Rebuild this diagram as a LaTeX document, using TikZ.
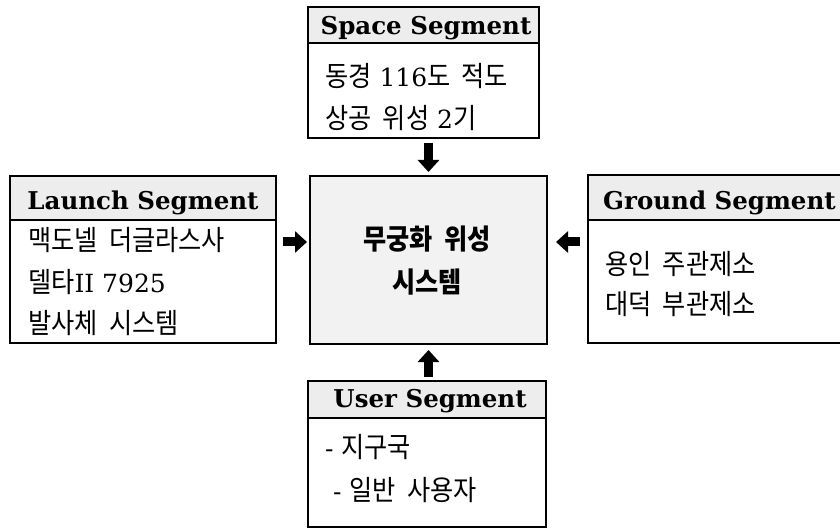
\documentclass[tikz,border=0pt]{standalone}
\usepackage{fontspec}
\setmainfont{DejaVu Serif}
\newfontfamily\kr[Scale=1.12, FakeStretch=0.9, WordSpace=2]{Noto Sans CJK KR}
\usetikzlibrary{arrows.meta}

\begin{document}
\begin{tikzpicture}[x=1pt,y=-1pt,
  frame/.style={draw, line width=2.2pt, inner sep=0pt, outer sep=0pt, anchor=north west},
  headbox/.style={frame, fill=black!7},
  hdtext/.style={font=\bfseries\fontsize{24.5}{24.5}\selectfont, inner sep=0pt},
  line/.style={font=\fontsize{25}{25}\selectfont, inner sep=0pt, anchor=west},
  core/.style={font=\kr\bfseries\fontsize{25}{25}\selectfont, inner sep=0pt},
  bar/.style={line width=9pt, -{Triangle[width=21pt,length=12pt]}}]

\clip (0,0) rectangle (840,529);
\fill[white] (0,0) rectangle (840,529);

% Space segment
\node[frame, minimum width=231pt, minimum height=131pt] (space) at (308,7) {};
\node[headbox, minimum width=231pt, minimum height=36pt] (spaceH) at (308,7) {};
\node[hdtext, anchor=base] (spaceT) at (426,35) {Space Segment};
\node[line] (space1) at (325,76) {{\kr 동경} 116{\kr 도 적도}};
\node[line] (space2) at (325,118) {{\kr 상공 위성} 2{\kr 기}};

% Launch segment
\node[frame, minimum width=266pt, minimum height=167pt] (launch) at (10,176) {};
\node[headbox, minimum width=266pt, minimum height=44pt] (launchH) at (10,176) {};
\node[hdtext, anchor=base] (launchT) at (143,210) {Launch Segment};
\node[line] (launch1) at (28,240) {\kr 맥도넬 더글라스사};
\node[line] (launch2) at (28,282) {{\kr 델타}II 7925};
\node[line] (launch3) at (28,323) {\kr 발사체 시스템};

% Satellite system
\node[frame, fill=black!5, minimum width=237pt, minimum height=168pt] (center) at (310,176) {};
\node[core] (core1) at (427,239) {무궁화 위성};
\node[core] (core2) at (427,282) {시스템};

% Ground segment
\node[frame, minimum width=272pt, minimum height=168pt] (ground) at (588,175) {};
\node[headbox, minimum width=272pt, minimum height=45pt] (groundH) at (588,175) {};
\node[hdtext, anchor=base west] (groundT) at (603,210) {Ground Segment};
\node[line] (ground1) at (605,264) {\kr 용인 주관제소};
\node[line] (ground2) at (605,304) {\kr 대덕 부관제소};

% User segment
\node[frame, minimum width=238pt, minimum height=146pt] (user) at (308,381) {};
\node[headbox, minimum width=238pt, minimum height=37pt] (userH) at (308,381) {};
\node[hdtext, anchor=base] (userT) at (430,407) {User Segment};
\node[line] (user1) at (325,447) {- {\kr 지구국}};
\node[line] (user2) at (333,490) {- {\kr 일반 사용자}};

% Connectors into the system box
\coordinate (midrow) at (0,242);
\draw[bar, shorten <=5pt, shorten >=4pt] (center.north |- space.south) -- (center.north);
\draw[bar, shorten <=4pt, shorten >=6pt] (center.south |- user.north) -- (center.south);
\draw[bar, shorten <=7pt, shorten >=3pt] (launch.east |- midrow) -- (center.west |- midrow);
\draw[bar, shorten <=8pt, shorten >=9pt] (ground.west |- midrow) -- (center.east |- midrow);
\end{tikzpicture}
\end{document}
